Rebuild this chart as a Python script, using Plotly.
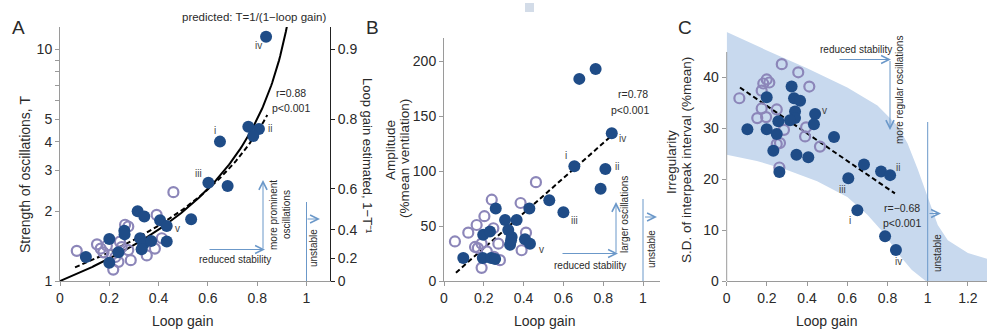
import numpy as np
import plotly.graph_objects as go

W, H = 987, 332
FONT = "Liberation Sans, Arial, sans-serif"

# ---------------- data ----------------
# Panel A: strength of oscillations T vs loop gain
a_open_gain = [0.068, 0.15, 0.165, 0.176, 0.19, 0.21, 0.216, 0.225, 0.237, 0.243,
               0.264, 0.277, 0.277, 0.287, 0.352, 0.385, 0.392, 0.413, 0.46, 0.25]
a_open_T = [1.35, 1.44, 1.38, 1.33, 1.42, 1.30, 1.12, 1.27, 1.21, 1.48,
            1.75, 1.72, 1.36, 1.23, 1.29, 1.38, 1.93, 1.53, 2.42, 1.40]
a_fill_gain = [0.105, 0.20, 0.20, 0.237, 0.261, 0.262, 0.315, 0.342, 0.325, 0.338,
               0.331, 0.37, 0.406, 0.433, 0.433, 0.532, 0.602, 0.68, 0.649, 0.764,
               0.807, 0.784, 0.836]
a_fill_T = [1.27, 1.52, 1.20, 1.33, 1.65, 1.59, 2.0, 1.90, 1.53, 1.44,
            1.37, 1.49, 1.83, 1.73, 1.48, 1.85, 2.66, 2.57, 4.0, 4.64,
            4.54, 4.23, 11.36]
a_fit_intercept, a_fit_slope = 0.074, 0.873     # fit on the 1 - 1/T scale
a_fit_gain_range = [0.061, 0.841]
a_pred_gain_range = [0.0, 0.921]
a_left_ticks = [1, 2, 3, 4, 5, 6, 7, 8, 9, 10]
a_left_ticktext = ["1", "2", "3", "4", "5", "", "", "", "", "10"]
a_right_est = [0, 0.2, 0.4, 0.6, 0.8, 0.9]
a_right_ticktext = ["0", "0.2", "0.4", "0.6", "0.8", "0.9"]
gain_ticks = [0, 0.2, 0.4, 0.6, 0.8, 1]
gain_ticktext = ["0", "0.2", "0.4", "0.6", "0.8", "1"]

# Panel B: amplitude (%mean ventilation)
b_open_gain = [0.055, 0.122, 0.164, 0.203, 0.24, 0.385, 0.462, 0.412, 0.39, 0.156,
               0.189, 0.248, 0.273, 0.215, 0.251, 0.281, 0.189, 0.17]
b_open_amp = [36, 44, 51, 59, 74, 71, 90, 44, 28, 31,
              34, 48, 34, 27, 22, 19, 12, 30]
b_fill_gain = [0.097, 0.195, 0.237, 0.257, 0.197, 0.231, 0.26, 0.307, 0.365, 0.323,
               0.34, 0.332, 0.337, 0.407, 0.432, 0.429, 0.529, 0.60, 0.655, 0.787,
               0.811, 0.68, 0.762, 0.843]
b_fill_amp = [21, 21, 21, 20, 42, 45, 66, 55.5, 55.5, 46.4,
              40, 33, 37, 38, 34, 66, 73.5, 62.5, 104.5, 84,
              102, 184, 193, 134.5]
b_fit_intercept, b_fit_slope = -2.0, 159.4
b_fit_gain_range = [0.06, 0.834]
b_ticks = [0, 50, 100, 150, 200]

# Panel C: irregularity
c_open_gain = [0.063, 0.152, 0.174, 0.196, 0.174, 0.182, 0.199, 0.212, 0.249, 0.274,
               0.356, 0.411, 0.285, 0.395, 0.39, 0.464, 0.249, 0.265, 0.262]
c_open_sd = [35.9, 32.0, 33.9, 32.2, 37.4, 38.8, 39.6, 39.0, 33.7, 42.6,
             41.0, 38.2, 29.7, 30.2, 28.4, 26.4, 26.9, 27.1, 22.3]
c_fill_gain = [0.103, 0.199, 0.199, 0.249, 0.232, 0.257, 0.262, 0.323, 0.335, 0.365,
               0.34, 0.34, 0.315, 0.347, 0.406, 0.44, 0.434, 0.534, 0.683, 0.768,
               0.813, 0.605, 0.65, 0.788, 0.842]
c_fill_sd = [29.8, 36.1, 29.8, 28.9, 25.6, 31.4, 21.4, 38.2, 35.9, 35.4,
             33.3, 32.0, 31.6, 24.8, 24.3, 32.8, 30.8, 28.3, 22.9, 21.5,
             20.8, 20.2, 13.9, 8.8, 6.1]
c_fit_intercept, c_fit_slope = 39.8, -27.0
c_fit_gain_range = [0.066, 0.837]
c_band_up_gain = [0.0, 0.2, 0.4, 0.6, 0.75, 0.85, 0.9, 0.95, 1.0, 1.05, 1.1, 1.2, 1.3]
c_band_up_sd = [48.9, 45.3, 41.8, 38.0, 34.5, 30.5, 27.0, 22.0, 16.5, 11.0, 8.0, 5.5, 4.3]
c_band_lo_gain = [0.0, 0.15, 0.3, 0.45, 0.6, 0.7, 0.78, 0.85, 0.92, 0.99]
c_band_lo_sd = [24.8, 23.6, 21.8, 19.6, 16.5, 13.0, 9.5, 5.5, 2.2, 0.0]
c_xticks = [0, 0.2, 0.4, 0.6, 0.8, 1, 1.2]
c_xticktext = ["0", "0.2", "0.4", "0.6", "0.8", "1", "1.2"]
c_yticks = [0, 10, 20, 30, 40]

# ---------------- styles ----------------
NAVY = "#1f4c87"
LAV = "#8c86b9"
ARROW = "#6b98c9"
AXC = "#9a9a9a"
TXT = "#2a2a2a"
LBL = "#444444"


def px(x):
    return x / W


def py(y):
    return 1 - y / H


fig = go.Figure()

open_marker = dict(size=10, color="rgba(255,255,255,0)", line=dict(color=LAV, width=2.2))
fill_marker = dict(size=12, color=NAVY, line=dict(width=0))
dash_line = dict(color="black", width=2, dash="5px,3px")

# Panel A traces
g = np.linspace(a_pred_gain_range[0], a_pred_gain_range[1], 200)
fig.add_trace(go.Scatter(x=g, y=1 / (1 - g), mode="lines",
                         line=dict(color="black", width=2), xaxis="x", yaxis="y"))
gf = np.linspace(a_fit_gain_range[0], a_fit_gain_range[1], 100)
fig.add_trace(go.Scatter(x=gf, y=1 / (1 - (a_fit_intercept + a_fit_slope * gf)), mode="lines",
                         line=dash_line, xaxis="x", yaxis="y"))
fig.add_trace(go.Scatter(x=a_open_gain, y=a_open_T, mode="markers", marker=open_marker,
                         xaxis="x", yaxis="y"))
fig.add_trace(go.Scatter(x=a_fill_gain, y=a_fill_T, mode="markers", marker=fill_marker,
                         xaxis="x", yaxis="y"))

# Panel B traces
fig.add_trace(go.Scatter(x=b_fit_gain_range,
                         y=[b_fit_intercept + b_fit_slope * v for v in b_fit_gain_range],
                         mode="lines", line=dash_line, xaxis="x2", yaxis="y2"))
fig.add_trace(go.Scatter(x=b_open_gain, y=b_open_amp, mode="markers", marker=open_marker,
                         xaxis="x2", yaxis="y2"))
fig.add_trace(go.Scatter(x=b_fill_gain, y=b_fill_amp, mode="markers", marker=fill_marker,
                         xaxis="x2", yaxis="y2"))

# Panel C traces
fig.add_trace(go.Scatter(x=c_fit_gain_range,
                         y=[c_fit_intercept + c_fit_slope * v for v in c_fit_gain_range],
                         mode="lines", line=dash_line, xaxis="x3", yaxis="y3"))
fig.add_trace(go.Scatter(x=c_open_gain, y=c_open_sd, mode="markers", marker=open_marker,
                         xaxis="x3", yaxis="y3"))
fig.add_trace(go.Scatter(x=c_fill_gain, y=c_fill_sd, mode="markers", marker=fill_marker,
                         xaxis="x3", yaxis="y3"))

# dummy trace to activate the right-hand axis of panel A
fig.add_trace(go.Scatter(x=[0], y=[1], mode="markers", marker=dict(opacity=0),
                         xaxis="x", yaxis="y4", hoverinfo="skip"))

# band in panel C
bx = list(c_band_up_gain) + [c_band_up_gain[-1]] + list(reversed(c_band_lo_gain))
by = list(c_band_up_sd) + [0] + list(reversed(c_band_lo_sd))
path = "M " + " L ".join(f"{x},{y}" for x, y in zip(bx, by)) + " Z"

tickfont = dict(family=FONT, size=14, color=TXT)
common = dict(showgrid=False, zeroline=False, ticks="outside", ticklen=4,
              tickcolor=AXC, linecolor=AXC, linewidth=1, tickfont=tickfont)

a_x0, a_x1 = 60, 330
a_unit = 246.5
b_x0, b_x1 = 444, 660
b_unit = 199
c_x0 = 726.7
c_unit = 201
ybot = 281

fig.update_layout(
    width=W, height=H, margin=dict(l=0, r=0, t=0, b=0, autoexpand=False),
    paper_bgcolor="white", plot_bgcolor="rgba(0,0,0,0)", showlegend=False,
    xaxis=dict(domain=[px(a_x0), px(a_x1)], range=[0, (a_x1 - a_x0) / a_unit],
               tickvals=gain_ticks, ticktext=gain_ticktext,
               showline=True, anchor="y", **common),
    yaxis=dict(domain=[py(ybot), py(27)], type="log", range=[0, (ybot - 27) / 231.5],
               tickvals=a_left_ticks, ticktext=a_left_ticktext,
               showline=True, anchor="x", **common),
    yaxis4=dict(overlaying="y", side="right", anchor="x", type="log",
                range=[0, (ybot - 27) / 231.5],
                tickvals=[1 / (1 - v) for v in a_right_est], ticktext=a_right_ticktext,
                showline=True, linecolor="#222", tickcolor="#222", ticks="outside", ticklen=4,
                showgrid=False, zeroline=False, tickfont=tickfont),
    xaxis2=dict(domain=[px(b_x0), px(b_x1)], range=[0, (b_x1 - b_x0) / b_unit],
                tickvals=gain_ticks, ticktext=gain_ticktext,
                showline=True, anchor="y2", **common),
    yaxis2=dict(domain=[py(ybot), py(38)], range=[0, (ybot - 38) / 1.0985],
                tickvals=b_ticks, showline=True, anchor="x2", **common),
    xaxis3=dict(domain=[px(c_x0), 1.0], range=[0, (W - c_x0) / c_unit],
                tickvals=c_xticks, ticktext=c_xticktext,
                showline=True, anchor="y3", **common),
    yaxis3=dict(domain=[py(ybot), py(30)], range=[0, (ybot - 30) / 5.09],
                tickvals=c_yticks, showline=False, anchor="x3", **common),
)

shapes = []
shapes.append(dict(type="path", path=path, xref="x3", yref="y3", layer="below",
                   fillcolor="#c8d9ee", line=dict(width=0)))
# C y axis line (shorter than the plotting area)
shapes.append(dict(type="line", xref="paper", yref="paper", x0=px(c_x0), x1=px(c_x0),
                   y0=py(ybot), y1=py(52), line=dict(color=AXC, width=1)))
# "unstable" boundaries at loop gain = 1
shapes.append(dict(type="line", xref="x", yref="paper", x0=1, x1=1, y0=py(ybot), y1=py(202),
                   line=dict(color=ARROW, width=1)))
shapes.append(dict(type="line", xref="x2", yref="paper", x0=1, x1=1, y0=py(ybot), y1=py(199),
                   line=dict(color=ARROW, width=1)))
shapes.append(dict(type="line", xref="x3", yref="paper", x0=1, x1=1, y0=py(ybot), y1=py(122),
                   line=dict(color=ARROW, width=1)))
# small grey square
shapes.append(dict(type="rect", xref="paper", yref="paper", x0=px(525), x1=px(534),
                   y0=py(12), y1=py(3), fillcolor="#d3dce8", line=dict(width=0)))
fig.update_layout(shapes=shapes)

ann = []


def text(x, y, s, size=10, angle=0, color=TXT, xanchor="center"):
    ann.append(dict(x=px(x), y=py(y), xref="paper", yref="paper", text=s, showarrow=False,
                    font=dict(family=FONT, size=size, color=color), textangle=angle,
                    xanchor=xanchor, yanchor="middle"))


def arrow(x0, y0, x1, y1):
    ann.append(dict(x=px(x1), y=py(y1), xref="paper", yref="paper", text="",
                    showarrow=True, ax=x0 - x1, ay=y0 - y1, axref="pixel", ayref="pixel",
                    arrowhead=5, arrowsize=1.6, arrowwidth=1, arrowcolor=ARROW))


# panel letters
text(18, 28, "A", size=19)
text(372, 28, "B", size=19)
text(685, 28, "C", size=19)

# axis titles
text(183, 321, "Loop gain", size=14)
text(545, 321, "Loop gain", size=14)
text(827, 321, "Loop gain", size=14)
text(25, 175, "Strength of oscillations, T", size=14, angle=-90)
text(368, 156, "Loop gain estimated, 1\u2212T\u207b\u00b9", size=13, angle=90)
text(390, 150, "Amplitude", size=13.5, angle=-90)
text(404, 159, "(%mean ventilation)", size=13.5, angle=-90)
text(671, 162, "Irregularity", size=13.5, angle=-90)
text(686, 160, "S.D. of interpeak interval (%mean)", size=13.5, angle=-90)

# panel A annotations
text(254, 17, "predicted: T=1/(1\u2212loop gain)", size=11.5)
text(291, 93, "r=0.88", size=10.5)
text(291, 108, "p<0.001", size=10.5)
for s, x, y in [("i", 215, 130), ("ii", 270, 128), ("iii", 198, 173), ("iv", 258, 45), ("v", 177, 228)]:
    text(x, y, s, size=10, color=LBL)
arrow(208, 249.5, 265, 249.5)
arrow(263, 250, 263, 180)
text(235, 259, "reduced stability", size=10)
text(274, 215, "more prominent", size=10, angle=-90)
text(287, 215, "oscillations", size=10, angle=-90)
arrow(306, 219, 320, 219)
text(313, 248, "unstable", size=10, angle=-90)

# panel B annotations
text(633, 94, "r=0.78", size=10.5)
text(630, 110, "p<0.001", size=10.5)
for s, x, y in [("i", 566, 155), ("ii", 617, 166), ("iii", 574, 220), ("iv", 622, 138), ("v", 541, 249)]:
    text(x, y, s, size=10, color=LBL)
arrow(561, 253.5, 618, 253.5)
arrow(616, 254, 616, 202)
text(590, 265, "reduced stability", size=10)
text(625, 215, "larger oscillations", size=10, angle=-90)
arrow(643.5, 217, 657, 217)
text(651, 249, "unstable", size=10, angle=-90)

# panel C annotations
text(902, 208, "r=\u22120.68", size=10.5)
text(902, 223, "p<0.001", size=10.5)
for s, x, y in [("i", 850, 220), ("ii", 898, 167), ("iii", 842, 189), ("iv", 898, 261), ("v", 824, 110)]:
    text(x, y, s, size=10, color=LBL)
text(856, 49, "reduced stability", size=10)
arrow(838, 59.5, 891, 59.5)
arrow(890, 59.5, 890, 130)
text(899, 90, "more regular oscillations", size=10, angle=-90)
arrow(928, 213.5, 941, 213.5)
text(937, 253, "unstable", size=10, angle=-90)

fig.update_layout(annotations=ann)
fig.write_html("out.html", config={"displayModeBar": False},
               post_script="document.body.style.margin='0';document.body.style.overflow='hidden';")
